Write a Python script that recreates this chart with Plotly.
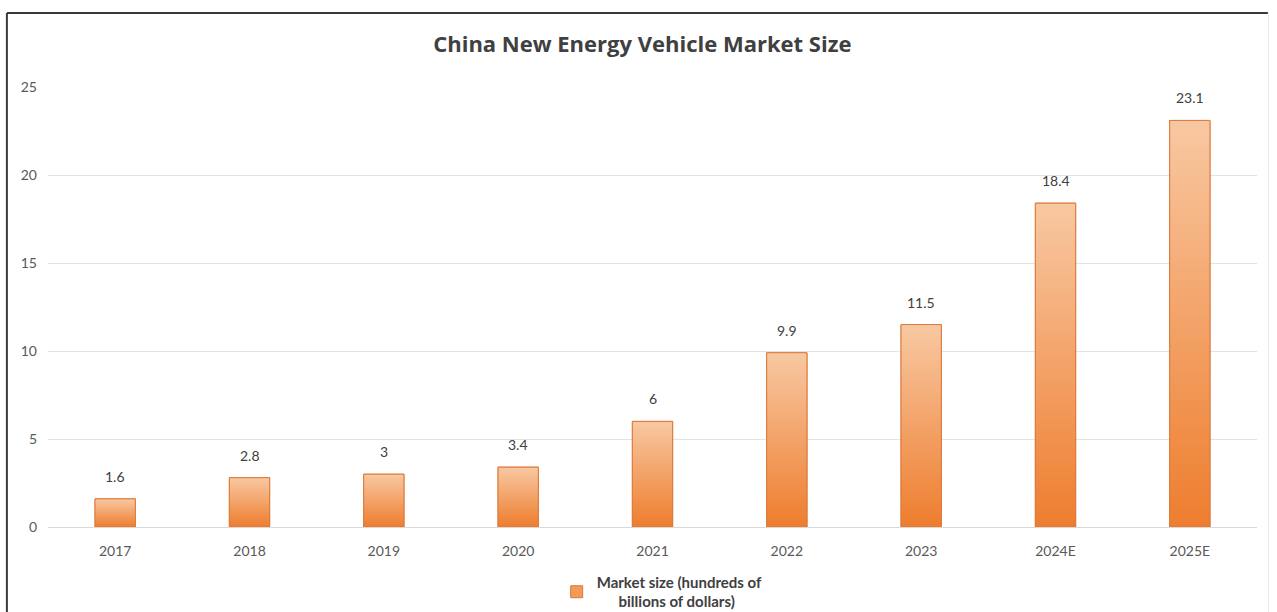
import plotly.graph_objects as go

# China NEV market size, hundreds of billions of dollars
years = ["2017", "2018", "2019", "2020", "2021", "2022", "2023", "2024E", "2025E"]
market_size = [1.6, 2.8, 3, 3.4, 6, 9.9, 11.5, 18.4, 23.1]
y_ticks = [0, 5, 10, 15, 20, 25]

BAR_W = 0.3
TOP_COLOR = "#f8c8a2"
BOTTOM_COLOR = "#ee7d2e"
EDGE_COLOR = "#dc7a3c"
TEXT_COLOR = "#404040"
TICK_COLOR = "#595959"
FONT = "Lato, 'Open Sans', sans-serif"

idx = list(range(len(years)))

fig = go.Figure()

# Base bar trace (carries the legend entry and hover)
fig.add_trace(go.Bar(
    x=idx, y=market_size, width=BAR_W,
    name="<b>Market size (hundreds of<br>" + "\u00a0" * 6 + "billions of dollars)</b>",
    marker=dict(color="#f29a58", line=dict(color=EDGE_COLOR, width=1)),
    hovertemplate="%{customdata}: %{y}<extra></extra>",
    customdata=years,
))

# Vertical gradient overlay for each bar, light at the top, deep orange at the base
for i, v in zip(idx, market_size):
    x0, x1 = i - BAR_W / 2, i + BAR_W / 2
    fig.add_trace(go.Scatter(
        x=[x0, x1, x1, x0, x0], y=[0, 0, v, v, 0],
        mode="lines", fill="toself",
        line=dict(color=EDGE_COLOR, width=1),
        fillgradient=dict(type="vertical",
                          colorscale=[[0, BOTTOM_COLOR], [1, TOP_COLOR]]),
        hoverinfo="skip", showlegend=False,
    ))

# Value labels above bars
for i, v in zip(idx, market_size):
    fig.add_annotation(
        x=i, y=v, text=f"{v:g}", showarrow=False,
        yanchor="bottom", yshift=12,
        font=dict(family=FONT, size=14, color=TEXT_COLOR),
    )

# Outer frame lines (top and left dark, right faint)
fig.add_shape(type="line", xref="paper", yref="paper",
              x0=-0.034, x1=1.009, y0=1.168, y1=1.168,
              line=dict(color="#3a3a3a", width=2))
fig.add_shape(type="line", xref="paper", yref="paper",
              x0=-0.034, x1=-0.034, y0=1.168, y1=-0.2,
              line=dict(color="#3a3a3a", width=2))
fig.add_shape(type="line", xref="paper", yref="paper",
              x0=1.0095, x1=1.0095, y0=1.168, y1=-0.2,
              line=dict(color="#e6e6e6", width=1))

fig.update_layout(
    width=1277, height=612,
    margin=dict(l=48, r=20, t=87, b=85, autoexpand=False),
    paper_bgcolor="white", plot_bgcolor="white",
    title=dict(text="<b>China New Energy Vehicle Market Size</b>",
               x=0.503, xanchor="center", y=1 - 44 / 612, yanchor="middle",
               font=dict(family="'Open Sans', sans-serif", size=22, color=TEXT_COLOR)),
    xaxis=dict(range=[-0.5, len(years) - 0.5], tickvals=idx, ticktext=years,
               showgrid=False, zeroline=False, showline=False, ticks="",
               ticklabelstandoff=14,
               tickfont=dict(family=FONT, size=14, color=TICK_COLOR)),
    yaxis=dict(range=[0, 25], tickvals=y_ticks, showgrid=True,
               gridcolor="#e3e3e3", gridwidth=1, zeroline=True,
               zerolinecolor="#d9d9d9", zerolinewidth=1, showline=False,
               ticks="", ticklabelstandoff=10,
               tickfont=dict(family=FONT, size=14, color=TICK_COLOR)),
    legend=dict(orientation="h", x=0.508, xanchor="center", y=-0.088,
                yanchor="top", tracegroupgap=0,
                font=dict(family=FONT, size=15, color=TEXT_COLOR),
                bgcolor="rgba(0,0,0,0)"),
    showlegend=True,
    bargap=0.7,
)

fig.write_html("out.html")
